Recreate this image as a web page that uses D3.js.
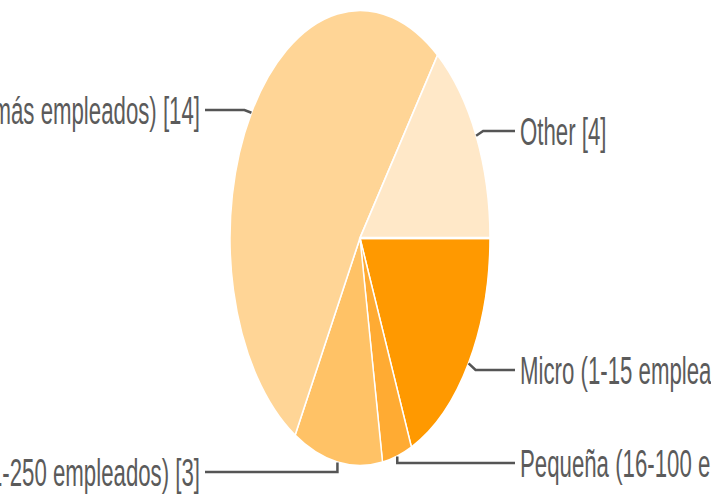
<!DOCTYPE html>
<html>
<head>
<meta charset="utf-8">
<script src="https://cdn.jsdelivr.net/npm/d3@7/dist/d3.min.js"></script>
<style>
  html, body { margin: 0; padding: 0; background: #ffffff; }
  svg { display: block; }
</style>
</head>
<body>
<div id="chart"></div>
<script>
// data, clockwise from 3 o'clock
const categories = ["Micro (1-15 empleados)", "Pequeña (16-100 empleados)", "Mediana (101-250 empleados)", "Grande (251 o más empleados)", "Other"];
const counts = [5, 1, 3, 14, 4];
const colors = ["#ff9900", "#ffab33", "#ffc266", "#ffd596", "#ffe8c8"];

// label layout (side and text baseline row)
const labelSide = ["right", "right", "left", "left", "right"];
const labelRow = [370, 463, 472, 110, 131];

const W = 711, H = 500;
const cx = 360, cy = 238;
const R = 228;          // vertical radius
const sx = 0.57;        // the whole picture is squeezed horizontally
const fontSize = 39;

const svg = d3.select("#chart").append("svg")
    .attr("width", W).attr("height", H);

const pie = d3.pie().sort(null).value(d => d)
    .startAngle(Math.PI / 2).endAngle(Math.PI / 2 + 2 * Math.PI);
const arcs = pie(counts);
const arc = d3.arc().innerRadius(0).outerRadius(R);

const g = svg.append("g").attr("transform", `translate(${cx},${cy}) scale(${sx},1)`);
g.selectAll("path").data(arcs).join("path")
    .attr("d", arc)
    .attr("fill", (d, i) => colors[i])
    .attr("stroke", "#ffffff")
    .attr("stroke-width", 2.5);

// leader lines + labels
const leftX = 205, rightX = 515;
function edgePoint(d) {
    const a = (d.startAngle + d.endAngle) / 2;   // d3 angle: 0 at 12 o'clock, clockwise
    return [cx + R * sx * Math.sin(a), cy - R * Math.cos(a)];
}

arcs.forEach((d, i) => {
    const [px, py] = edgePoint(d);
    const y = labelRow[i];
    const left = labelSide[i] === "left";
    let pts;
    if (Math.abs(py - y) > 6 && Math.abs(px - cx) < 60) {
        // bottom slices: drop straight down then go sideways
        pts = [[px, py], [px, y], [left ? leftX : rightX, y]];
    } else {
        const elbowX = px + (left ? -7 : 7);
        pts = [[px, py], [elbowX, y], [left ? leftX : rightX, y]];
    }
    svg.append("path")
        .attr("d", d3.line()(pts))
        .attr("fill", "none")
        .attr("stroke", "#555555")
        .attr("stroke-width", 2.5);

    svg.append("text")
        .attr("transform", `translate(${left ? leftX - 5 : rightX + 5},${y}) scale(${sx},1)`)
        .attr("text-anchor", left ? "end" : "start")
        .attr("dy", "0.35em")
        .attr("font-family", "Liberation Sans, Arial, sans-serif")
        .attr("font-size", fontSize)
        .attr("fill", "#5b5b5b")
        .text(`${categories[i]} [${counts[i]}]`);
});
</script>
</body>
</html>
